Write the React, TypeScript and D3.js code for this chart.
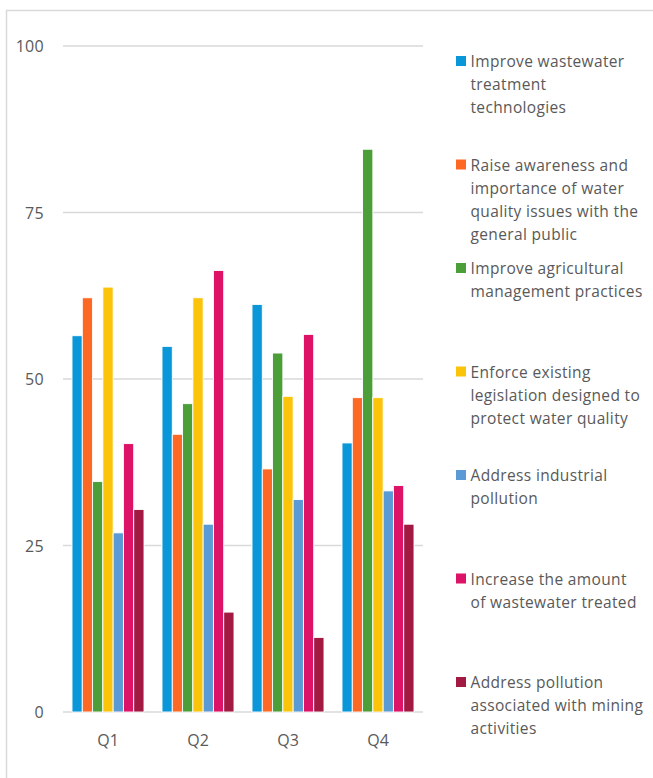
import React from "react";
import * as d3 from "d3";

const quarters = ["Q1", "Q2", "Q3", "Q4"];

const seriesNames = [
  "Improve wastewater treatment technologies",
  "Raise awareness and importance of water quality issues with the general public",
  "Improve agricultural management practices",
  "Enforce existing legislation designed to protect water quality",
  "Address industrial pollution",
  "Increase the amount of wastewater treated",
  "Address pollution associated with mining activities",
];

// Legend labels, pre-wrapped into lines
const legendLines = [
  ["Improve wastewater", "treatment", "technologies"],
  ["Raise awareness and", "importance of water", "quality issues with the", "general public"],
  ["Improve agricultural", "management practices"],
  ["Enforce existing", "legislation designed to", "protect water quality"],
  ["Address industrial", "pollution"],
  ["Increase the amount", "of wastewater treated"],
  ["Address pollution", "associated with mining", "activities"],
];

const seriesColors = ["#0A97D9", "#FD6925", "#4C9F38", "#FCC30B", "#5B9BD5", "#DD1367", "#A21942"];

// values[series][quarter]
const wastewaterTech = [56.5, 54.9, 61.2, 40.4];
const raiseAwareness = [62.2, 41.7, 36.5, 47.2];
const agricultural = [34.6, 46.3, 53.9, 84.5];
const enforceLegislation = [63.8, 62.2, 47.4, 47.2];
const industrialPollution = [26.9, 28.2, 31.9, 33.2];
const wastewaterTreated = [40.3, 66.3, 56.7, 34.0];
const miningPollution = [30.4, 15.0, 11.2, 28.2];

const values = [
  wastewaterTech,
  raiseAwareness,
  agricultural,
  enforceLegislation,
  industrialPollution,
  wastewaterTreated,
  miningPollution,
];

const yTicks = [0, 25, 50, 75, 100];

const W = 653;
const H = 778;
const plot = { left: 63, right: 423, top: 46, bottom: 712 };
const FONT = "'Open Sans', 'Liberation Sans', sans-serif";
const TEXT = "#595959";
const GRID = "#D9D9D9";

export default function App() {
  const x0 = d3
    .scaleBand<string>()
    .domain(quarters)
    .range([plot.left, plot.right])
    .paddingInner(0.2)
    .paddingOuter(0.1);
  const x1 = d3
    .scaleBand<number>()
    .domain(d3.range(seriesNames.length))
    .range([0, x0.bandwidth()]);
  const y = d3.scaleLinear().domain([0, 100]).range([plot.bottom, plot.top]);

  const legendX = 456;
  const legendTop = 61;
  const legendStep = 103.5;
  const lineH = 23;

  return (
    <svg
      width={W}
      height={H}
      style={{ position: "fixed", left: 0, top: 0, background: "#fff" }}
      fontFamily={FONT}
    >
      {/* outer frame */}
      <path d={`M6.5,${H} V10.5 H${W}`} fill="none" stroke={GRID} strokeWidth={1.5} />

      {/* gridlines and y labels */}
      {yTicks.map((t) => (
        <g key={t}>
          <line
            x1={plot.left}
            x2={plot.right}
            y1={y(t)}
            y2={y(t)}
            stroke={GRID}
            strokeWidth={1.3}
          />
          <text
            x={44}
            y={y(t)}
            textAnchor="end"
            dominantBaseline="central"
            fontSize={16}
            letterSpacing={0.3}
            fill={TEXT}
          >
            {t}
          </text>
        </g>
      ))}

      {/* bars */}
      {quarters.map((q, qi) => (
        <g key={q} transform={`translate(${x0(q)},0)`}>
          {values.map((vals, si) => (
            <rect
              key={si}
              x={x1(si)}
              y={y(vals[qi])}
              width={x1.bandwidth()}
              height={y(0) - y(vals[qi])}
              fill={seriesColors[si]}
              stroke="#fff"
              strokeWidth={0.9}
            />
          ))}
        </g>
      ))}

      {/* x labels */}
      {quarters.map((q) => (
        <text
          key={q}
          x={(x0(q) as number) + x0.bandwidth() / 2}
          y={740}
          textAnchor="middle"
          dominantBaseline="central"
          fontSize={16}
          fill={TEXT}
        >
          {q}
        </text>
      ))}

      {/* legend */}
      {legendLines.map((lines, i) => {
        const cy = legendTop + i * legendStep;
        return (
          <g key={i}>
            <rect x={legendX} y={cy - 5} width={10} height={10} fill={seriesColors[i]} />
            {lines.map((ln, li) => (
              <text
                key={li}
                x={legendX + 14.5}
                y={cy + li * lineH}
                dominantBaseline="central"
                fontSize={15.5}
                letterSpacing={0.35}
                fill={TEXT}
              >
                {ln}
              </text>
            ))}
          </g>
        );
      })}
    </svg>
  );
}
